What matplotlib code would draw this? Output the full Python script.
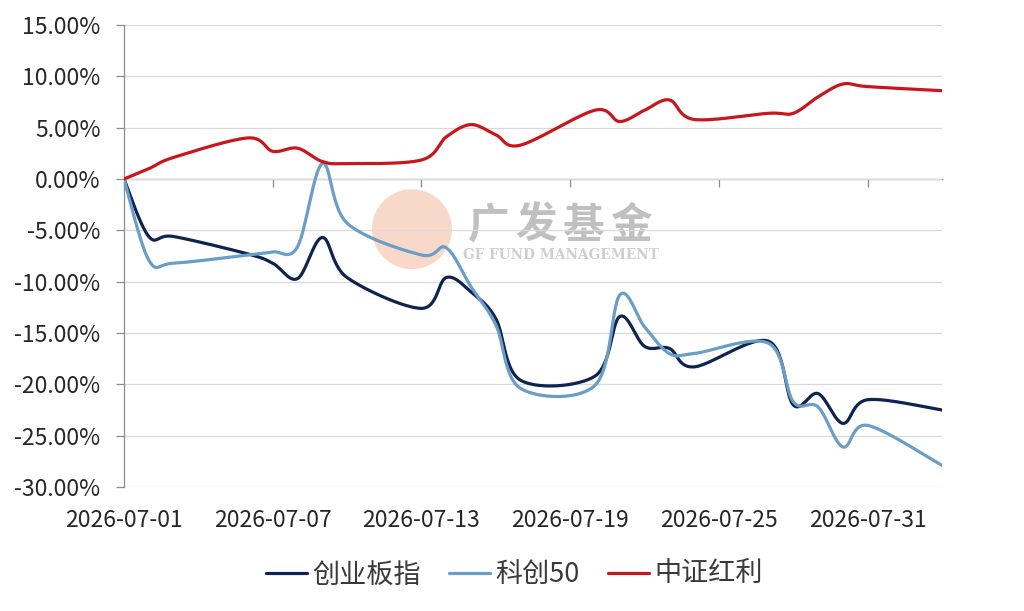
import numpy as np
import matplotlib
matplotlib.use("Agg")
import matplotlib.pyplot as plt
import matplotlib.dates as mdates
from matplotlib.ticker import FuncFormatter, MultipleLocator
from matplotlib.patches import Ellipse
import pandas as pd

plt.rcParams['font.family'] = ['Noto Sans CJK SC', 'DejaVu Sans']

# trading days
dates = pd.to_datetime([
    "2026-07-01", "2026-07-02", "2026-07-03", "2026-07-06", "2026-07-07",
    "2026-07-08", "2026-07-09", "2026-07-10", "2026-07-13", "2026-07-14",
    "2026-07-15", "2026-07-16", "2026-07-17", "2026-07-20", "2026-07-21",
    "2026-07-22", "2026-07-23", "2026-07-24", "2026-07-27", "2026-07-28",
    "2026-07-29", "2026-07-30", "2026-07-31", "2026-08-03",
])

# cumulative returns (%)
chinext = [0.0, -5.6, -5.6, -7.3, -8.2, -9.7, -5.7, -9.6, -12.6, -9.6,
           -11.0, -13.6, -19.6, -19.2, -13.4, -16.3, -16.5, -18.3, -15.8,
           -22.0, -20.9, -23.8, -21.5, -22.5]
star50 = [0.0, -7.9, -8.2, -7.4, -7.1, -6.6, 1.5, -4.3, -7.4, -6.7,
          -10.5, -14.2, -20.4, -20.1, -11.3, -14.4, -17.0, -17.0, -16.0,
          -21.7, -22.2, -26.1, -24.0, -27.9]
dividend = [0.0, 1.0, 2.1, 4.0, 2.7, 3.0, 1.7, 1.5, 1.85, 4.1,
            5.3, 4.3, 3.3, 6.7, 5.6, 6.7, 7.7, 5.8, 6.4, 6.4,
            8.0, 9.25, 9.0, 8.6]

series_names = ["创业板指", "科创50", "中证红利"]
series_colors = ["#0f2350", "#6a9ec6", "#c8161d"]


def smooth(x, y, n=30):
    # Catmull-Rom style bezier smoothing (like Excel smoothed lines)
    x = np.asarray(x, float)
    y = np.asarray(y, float)
    px = np.concatenate([[x[0]], x, [x[-1]]])
    py = np.concatenate([[y[0]], y, [y[-1]]])
    xs, ys = [], []
    t = np.linspace(0, 1, n)
    for i in range(1, len(px) - 2):
        p0 = np.array([px[i], py[i]])
        p3 = np.array([px[i + 1], py[i + 1]])
        c1 = p0 + (np.array([px[i + 1], py[i + 1]]) - np.array([px[i - 1], py[i - 1]])) / 6
        c2 = p3 - (np.array([px[i + 2], py[i + 2]]) - np.array([px[i], py[i]])) / 6
        b = ((1 - t) ** 3)[:, None] * p0 + (3 * (1 - t) ** 2 * t)[:, None] * c1 \
            + (3 * (1 - t) * t ** 2)[:, None] * c2 + (t ** 3)[:, None] * p3
        xs.append(b[:, 0])
        ys.append(b[:, 1])
    return np.concatenate(xs), np.concatenate(ys)


fig = plt.figure(figsize=(10.24, 6.11), dpi=100)
ax_w, ax_h = 818, 462
ax = fig.add_axes([124 / 1024, 1 - 487 / 611, ax_w / 1024, ax_h / 611])

xnum = mdates.date2num(dates)
ymin, ymax = -30, 15

# watermark
r = 40
logo = Ellipse((0.352, 0.558), 2 * r / ax_w, 2 * r / ax_h, transform=ax.transAxes,
               facecolor="#f3b394", edgecolor="none", alpha=0.5, zorder=0)
ax.add_patch(logo)
# characters spread out a little, the logo text is wide
for i, ch in enumerate("广发基金"):
    ax.text((465 + 23.75 + i * 47.5 - 124) / ax_w, 0.566, ch, transform=ax.transAxes,
            fontsize=30, fontweight="bold", color="#c0c0c0", ha="center",
            va="center", zorder=0)
ax.text(0.415, 0.503, "GF FUND MANAGEMENT", transform=ax.transAxes, fontsize=9.8,
        fontweight="bold", family="DejaVu Serif", color="#cfcfcf", ha="left",
        va="center", zorder=0)

for vals, name, col in zip([chinext, star50, dividend], series_names, series_colors):
    sx, sy = smooth(xnum, vals)
    ax.plot(sx, sy, color=col, lw=2.3, label=name, solid_capstyle="round", zorder=3)

ax.set_xlim(xnum[0], xnum[-1])
ax.set_ylim(ymin, ymax)
ax.yaxis.set_major_locator(MultipleLocator(5))
ax.yaxis.set_major_formatter(FuncFormatter(lambda v, p: f"{v:.2f}%"))
ax.grid(axis="y", color="#d9d9d9", lw=0.9)
ax.set_axisbelow(True)

ticks = mdates.date2num(pd.date_range("2026-07-01", "2026-08-03", freq="6D"))
ax.set_xticks(ticks)
ax.xaxis.set_major_formatter(mdates.DateFormatter("%Y-%m-%d"))
ax.tick_params(axis="x", length=0, pad=16, labelsize=16.5, labelcolor="#262626")
ax.tick_params(axis="y", length=6, color="#8c8c8c", width=0.9, pad=11,
               labelsize=16.5, labelcolor="#262626")

for s in ["top", "right", "bottom"]:
    ax.spines[s].set_visible(False)
ax.spines["left"].set_color("#8c8c8c")
ax.spines["left"].set_linewidth(0.9)

# zero axis line with tick marks
zero_pos = (0 - ymin) / (ymax - ymin)
sec = ax.secondary_xaxis(zero_pos)
sec.set_xticks(ticks)
sec.set_xticklabels([])
sec.tick_params(length=6, color="#8c8c8c", width=0.9, direction="in")
for s in sec.spines.values():
    s.set_color("#8c8c8c")
    s.set_linewidth(0.9)

leg = fig.legend(loc="center", bbox_to_anchor=(0.5025, 0.059), ncol=3, frameon=False,
                 fontsize=19.5, handlelength=1.5, handletextpad=0.2, columnspacing=1.05)
for t in leg.get_texts():
    t.set_color("#3a3a3a")

fig.savefig("out.png", dpi=100, facecolor="white")
